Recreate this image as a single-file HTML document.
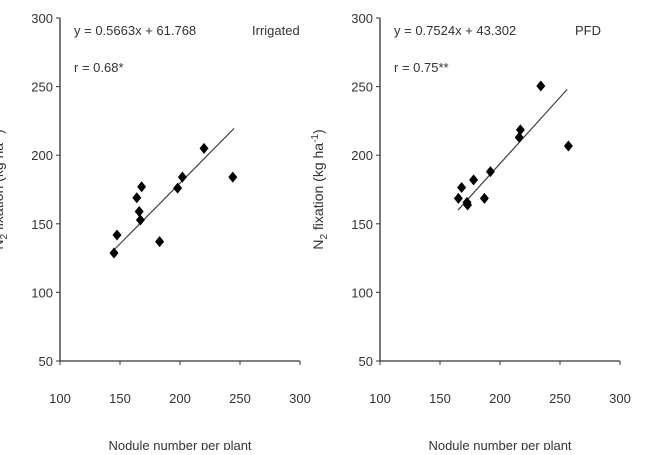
<!DOCTYPE html>
<html><head><meta charset="utf-8"><style>
body{margin:0;background:#fff;}
svg text{font-family:"Liberation Sans",sans-serif;fill:#333;}
</style></head><body>
<svg id="c" width="650" height="450" viewBox="0 0 650 450"></svg>
<script>
const xTicks=[100,150,200,250,300];
const yTicks=[50,100,150,200,250,300];
const irrX=[145,147.5,164,168,166,167,183,198,202,220,244];
const irrY=[128.7,141.8,169,177,159,152.8,137,176,184,205,184];
const pfdX=[165.3,168,173,172.5,178,187,192,216,217,234,257];
const pfdY=[168.5,176.5,163.7,165.6,182,168.5,188,213,218.5,250.4,206.7];
const irrFitX=[145,245];
const irrFitY=[131,219.5];
const pfdFitX=[165,256];
const pfdFitY=[160,248];
const svg=document.getElementById('c');
const NS='http://www.w3.org/2000/svg';
function mk(t,a,p){const e=document.createElementNS(NS,t);for(const k in a)e.setAttribute(k,a[k]);(p||svg).appendChild(e);return e;}
function panel(name,x0,xs,ys,fx,fy,eq,r,lab,labX){
  const g=mk('g',{});
  
  
  const X=v=>x0+(v-100)*1.2, Y=v=>361-(v-50)*1.372;
  const ya=mk('line',{x1:x0,y1:Y(300),x2:x0,y2:Y(50),stroke:'#333','stroke-width':1.3},g);
  
  const xa=mk('line',{x1:x0,y1:Y(50),x2:X(300),y2:Y(50),stroke:'#333','stroke-width':1.3},g);
  
  yTicks.forEach(v=>{
    mk('line',{x1:x0-4,y1:Y(v),x2:x0,y2:Y(v),stroke:'#333'},g);
    const t=mk('text',{x:x0-7,y:Y(v)+5,'text-anchor':'end','font-size':13},g);t.textContent=v;
    
  });
  xTicks.forEach(v=>{
    mk('line',{x1:X(v),y1:Y(50),x2:X(v),y2:Y(50)+4,stroke:'#333'},g);
    const t=mk('text',{x:X(v),y:403,'text-anchor':'middle','font-size':13},g);t.textContent=v;
    
  });
  const fl=mk('line',{x1:X(fx[0]),y1:Y(fy[0]),x2:X(fx[1]),y2:Y(fy[1]),stroke:'#444','stroke-width':1.2},g);
  
  xs.forEach((v,i)=>{
    const cx=X(v),cy=Y(ys[i]);
    const p=mk('path',{d:`M${cx} ${cy-5.5}L${cx+4.5} ${cy}L${cx} ${cy+5.5}L${cx-4.5} ${cy}Z`,fill:'#000'},g);
    
  });
  const e=mk('text',{x:x0+14,y:35,'font-size':13},g);e.textContent=eq;
  
  const rr=mk('text',{x:x0+14,y:72,'font-size':13},g);rr.textContent=r;
  
  const l=mk('text',{x:labX,y:35,'font-size':13},g);l.textContent=lab;
  
  const xt=mk('text',{x:X(200),y:450,'text-anchor':'middle','font-size':13},g);xt.textContent='Nodule number per plant';
  
  const yt=mk('text',{x:0,y:0,'text-anchor':'middle','font-size':14,transform:`translate(${x0-57},${Y(175)}) rotate(-90)`},g);
  yt.innerHTML='N<tspan font-size="10" dy="4">2</tspan><tspan dy="-4"> fixation (kg ha</tspan><tspan font-size="10" dy="-5">-1</tspan><tspan dy="5">)</tspan>';
  
}
panel('irrigated-panel',60,irrX,irrY,irrFitX,irrFitY,'y = 0.5663x + 61.768','r  = 0.68*','Irrigated',252);
panel('pfd-panel',380,pfdX,pfdY,pfdFitX,pfdFitY,'y = 0.7524x + 43.302','r  = 0.75**','PFD',575);
</script>
</body></html>
